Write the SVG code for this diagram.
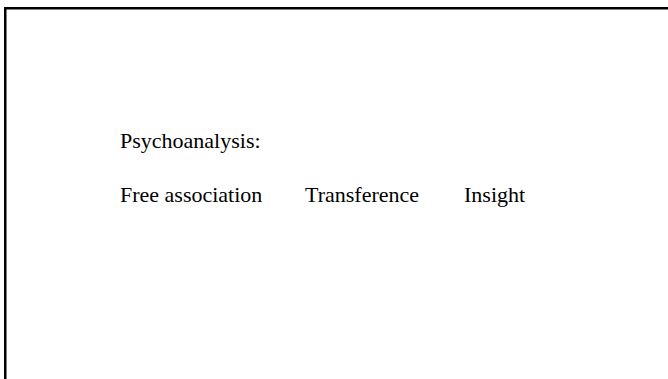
<svg xmlns="http://www.w3.org/2000/svg" width="668" height="379" viewBox="0 0 668 379">
<style>
.t{font-family:"Liberation Serif","Times New Roman",serif;font-size:22px;fill:#000}
.b{stroke:#000;stroke-width:2.5;fill:none}
</style>
<rect width="668" height="379" fill="#fff"/>
<path class="b" d="M5.25,379 V8.25 H668"/>
<g id="title"><text class="t" x="120" y="148">Psychoanalysis:</text></g>
<g id="free-association"><text class="t" x="120" y="202">Free association</text></g>
<g id="transference"><text class="t" x="305" y="202">Transference</text></g>
<g id="insight"><text class="t" x="464" y="202">Insight</text></g>
<g id="connectors"></g>
</svg>
